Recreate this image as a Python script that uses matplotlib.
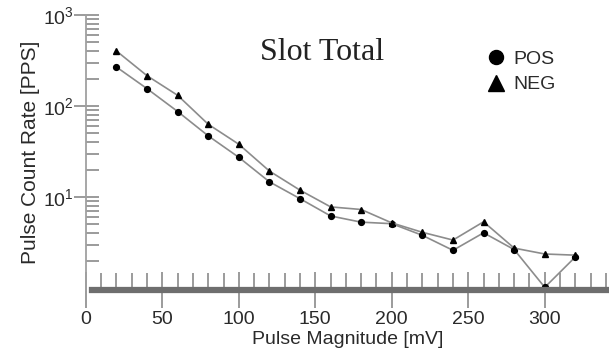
import numpy as np
import matplotlib.pyplot as plt
from matplotlib.ticker import MultipleLocator, FixedLocator, LogLocator, NullFormatter

# pulse magnitude bins [mV] and count rates [PPS]
magnitude = [20, 40, 60, 80, 100, 120, 140, 160, 180, 200, 220, 240, 260, 280, 300, 320]
pos_rate = [268, 155, 87, 47, 27.3, 14.7, 9.6, 6.2, 5.3, 5.1, 3.8, 2.6, 4.05, 2.65, 1.02, 2.2]
neg_rate = [402, 215, 131, 63, 38, 19.3, 11.9, 7.8, 7.3, 5.2, 4.1, 3.37, 5.35, 2.75, 2.37, 2.3]
decades = [10, 100, 1000]

plt.rcParams['font.family'] = ['Liberation Sans', 'DejaVu Sans']

fig = plt.figure(figsize=(6.09, 3.56), dpi=100)
ax = fig.add_axes([0.141, 0.185, 0.859, 0.773])

line_col = '#8c8c8c'
ax.plot(magnitude, pos_rate, color=line_col, lw=1.2, marker='o', ms=4.2,
        mfc='black', mec='black', label='POS')
ax.plot(magnitude, neg_rate, color=line_col, lw=1.2, marker='^', ms=4.8,
        mfc='black', mec='black', label='NEG')

ax.set_yscale('log')
ax.set_ylim(0.95, 1000)
ax.set_xlim(0, 342)

ax.xaxis.set_major_locator(MultipleLocator(50))
ax.xaxis.set_minor_locator(MultipleLocator(10))
ax.yaxis.set_major_locator(FixedLocator(decades))
ax.yaxis.set_minor_locator(LogLocator(base=10, subs=np.arange(2, 10), numticks=10))
ax.yaxis.set_minor_formatter(NullFormatter())

tick_col = '#8a8a8a'
ax.tick_params(axis='x', which='major', direction='inout', length=26, width=1.2,
               color=tick_col, labelsize=14, pad=2)
ax.tick_params(axis='x', which='minor', direction='in', length=12, width=1.2,
               color=tick_col)
ax.tick_params(axis='y', which='major', direction='inout', length=18, width=1.2,
               color=tick_col, labelsize=14, pad=0)
ax.tick_params(axis='y', which='minor', direction='in', length=9, width=1.2,
               color=tick_col)

for s in ['top', 'right']:
    ax.spines[s].set_visible(False)
ax.spines['left'].set_color('#a0a0a0')
ax.spines['left'].set_linewidth(1.3)
ax.spines['bottom'].set_color('#6e6e6e')
ax.spines['bottom'].set_linewidth(4.5)
ax.spines['bottom'].set_bounds(4, 342)

ax.set_xlabel('Pulse Magnitude [mV]', fontsize=14, color='#2a2a2a', labelpad=2)
ax.set_ylabel('Pulse Count Rate [PPS]', fontsize=15, color='#2a2a2a', labelpad=2)
for lab in ax.get_xticklabels() + ax.get_yticklabels():
    lab.set_color('#2a2a2a')

ax.text(0.452, 0.865, 'Slot Total', transform=ax.transAxes, ha='center', va='center',
        fontsize=23, family='Liberation Serif', color='#222222')

leg = ax.legend(loc='upper left', bbox_to_anchor=(0.74, 0.935), frameon=False,
                fontsize=14, handlelength=0.6, handletextpad=0.6, labelspacing=0.4,
                markerscale=2.4)
for h in leg.legend_handles:
    h.set_linestyle('none')
for t in leg.get_texts():
    t.set_color('#2a2a2a')

fig.savefig('out.png', dpi=100)
